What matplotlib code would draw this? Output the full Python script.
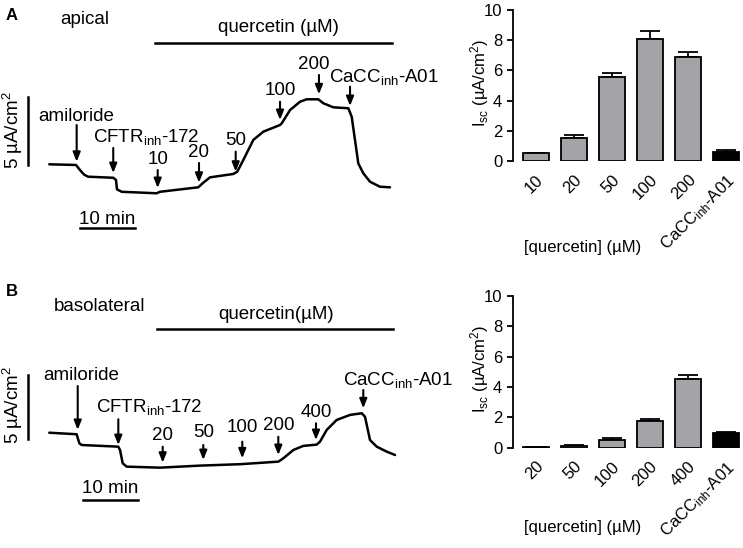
import matplotlib
matplotlib.use("Agg")
import matplotlib.pyplot as plt
import numpy as np

plt.rcParams['font.family'] = ['Liberation Sans', 'DejaVu Sans']
plt.rcParams['mathtext.fontset'] = 'custom'
plt.rcParams['mathtext.rm'] = 'Liberation Sans'
plt.rcParams['mathtext.it'] = 'Liberation Sans:italic'

# ---------------- data: panel A trace (time min, Isc uA/cm2) ----------------
a_t = [-0.13, 4.73, 5.45, 6.18, 6.91, 11.51, 12.0, 12.18, 13.04, 19.4, 20.0, 26.96,
       27.87, 29.09, 33.33, 34.05, 35.15, 36.96, 38.78, 41.82, 42.13, 43.64, 45.45,
       46.67, 48.78, 49.69, 51.51, 54.24, 54.85, 55.45, 56.05, 56.96, 58.18, 60.0, 61.82]
a_i = [1.89, 1.84, 1.47, 1.14, 0.98, 0.90, 0.74, 0.05, -0.13, -0.24, -0.13, 0.20,
       0.54, 0.93, 1.18, 1.35, 2.21, 3.68, 4.29, 4.78, 4.90, 5.88, 6.49,
       6.67, 6.67, 6.38, 6.08, 6.01, 5.39, 3.68, 1.96, 1.23, 0.61, 0.24, 0.20]

a_ev_t = [4.85, 11.5, 19.58, 27.09, 33.76, 41.82, 48.9, 54.55]
a_ev_tail = [4.78, 3.09, 1.47, 1.99, 2.82, 6.49, 8.46, 7.6]
a_ev_tip = [2.08, 1.25, 0.15, 0.54, 1.35, 5.15, 7.04, 6.18]
a_lab = ['amiloride', r'CFTR$_{\mathrm{inh}}$-172', '10', '20', '50', '100', '200',
         r'CaCC$_{\mathrm{inh}}$-A01']
a_lab_t = [4.85, 17.4, 19.58, 27.09, 33.76, 41.82, 48.0, 50.7]
a_lab_i = [5.07, 3.55, 1.91, 2.40, 3.31, 6.99, 8.87, 7.96]
a_lab_ha = ['center', 'center', 'center', 'center', 'center', 'center', 'center', 'left']

# ---------------- data: panel B trace ----------------
b_t = [-0.13, 4.85, 5.15, 5.36, 5.76, 12.42, 12.73, 13.22, 13.95, 20.0, 27.27, 34.55,
       41.51, 42.42, 44.24, 46.05, 48.49, 49.09, 50.31, 52.13, 54.55, 56.67, 57.27,
       58.18, 59.4, 61.22, 62.73]
b_i = [2.91, 2.79, 2.34, 2.07, 1.95, 1.82, 1.56, 0.52, 0.26, 0.18, 0.34, 0.45,
       0.65, 0.91, 1.56, 1.88, 1.98, 2.21, 3.13, 3.91, 4.30, 4.43, 4.16,
       2.34, 1.82, 1.43, 1.17]

b_ev_t = [5.04, 12.42, 20.49, 27.87, 34.96, 41.51, 48.36, 56.96]
b_ev_tail = [6.56, 3.96, 1.82, 1.95, 2.21, 2.60, 3.65, 6.25]
b_ev_tip = [3.13, 1.95, 0.57, 0.78, 0.91, 1.17, 2.34, 4.82]
b_lab = ['amiloride', r'CFTR$_{\mathrm{inh}}$-172', '20', '50', '100', '200', '400',
         r'CaCC$_{\mathrm{inh}}$-A01']
b_lab_t = [5.76, 18.0, 20.49, 27.87, 34.96, 41.51, 48.36, 53.3]
b_lab_i = [7.03, 4.56, 2.34, 2.55, 2.99, 3.13, 4.17, 6.64]
b_lab_ha = ['center', 'center', 'center', 'center', 'center', 'center', 'center', 'left']

# ---------------- data: bar charts ----------------
a_cats = ['10', '20', '50', '100', '200', r'CaCC$_{\mathrm{inh}}$-A01']
a_vals = [0.50, 1.50, 5.55, 8.05, 6.90, 0.62]
a_errs = [0.05, 0.25, 0.28, 0.58, 0.35, 0.10]

b_cats = ['20', '50', '100', '200', '400', r'CaCC$_{\mathrm{inh}}$-A01']
b_vals = [0.02, 0.10, 0.52, 1.74, 4.52, 0.96]
b_errs = [0.02, 0.06, 0.13, 0.15, 0.28, 0.06]

GRAY = '#a3a3a8'

fig = plt.figure(figsize=(7.43, 5.48), dpi=100)
W, H = 743, 548


def pix_axes(x0, y0, x1, y1):
    return fig.add_axes([x0 / W, 1 - y1 / H, (x1 - x0) / W, (y1 - y0) / H])


def trace_panel(box, xlim, ylim, t, i, ev_t, ev_tail, ev_tip, labs, lab_t, lab_i, lab_ha,
                vbar, hbar, hlab_i, vlab_i, qline, qlab, qlab_xy, side, side_xy):
    ax = pix_axes(*box)
    ax.set_xlim(*xlim)
    ax.set_ylim(*ylim)
    ax.axis('off')
    ax.plot(t, i, color='black', lw=1.8, solid_joinstyle='round', solid_capstyle='round')
    for x, y0, y1 in zip(ev_t, ev_tail, ev_tip):
        ax.annotate('', xy=(x, y1), xytext=(x, y0),
                    arrowprops=dict(arrowstyle='-|>,head_length=0.55,head_width=0.22',
                                    color='black', lw=1.5, shrinkA=0, shrinkB=0))
    for s, x, y, ha in zip(labs, lab_t, lab_i, lab_ha):
        ax.text(x, y, s, ha=ha, va='baseline', fontsize=13.5)
    # scale bars
    ax.plot([vbar[0], vbar[0]], [vbar[1], vbar[1] + 5], color='black', lw=1.8)
    ax.text(-6.67, vlab_i, r'5 µA/cm$^{2}$', rotation=90, ha='center', va='center',
            fontsize=13.5)
    ax.plot([hbar[0], hbar[0] + 10], [hbar[1], hbar[1]], color='black', lw=1.8)
    ax.text(hbar[0] + 5, hlab_i, '10 min', ha='center', va='baseline', fontsize=13.5)
    ax.plot([qline[0], qline[1]], [qline[2], qline[2]], color='black', lw=1.8)
    ax.text(qlab_xy[0], qlab_xy[1], qlab, ha='center', va='baseline', fontsize=13.5)
    ax.text(side_xy[0], side_xy[1], side, ha='center', va='baseline', fontsize=13.5)
    return ax


trace_panel((0, 0, 420, 250), (-9.09, 67.27), (-4.41, 13.97), a_t, a_i,
            a_ev_t, a_ev_tail, a_ev_tip, a_lab, a_lab_t, a_lab_i, a_lab_ha,
            (-3.95, 1.84), (5.45, -2.82), -2.5, 4.4, (19.1, 62.1, 10.83),
            'quercetin (µM)', (41.45, 11.64), 'apical', (6.36, 12.18))

trace_panel((0, 280, 420, 530), (-9.09, 67.27), (-4.69, 14.84), b_t, b_i,
            b_ev_t, b_ev_tail, b_ev_tip, b_lab, b_lab_t, b_lab_i, b_lab_ha,
            (-3.95, 2.4), (6.0, -2.34), -1.82, 5.1, (19.4, 62.4, 10.99),
            'quercetin(µM)', (41.05, 11.77), 'basolateral', (9.09, 12.45))

fig.text(6 / W, 1 - 20 / H, 'A', fontsize=12, fontweight='bold', ha='left', va='baseline')
fig.text(6 / W, 1 - 296 / H, 'B', fontsize=12, fontweight='bold', ha='left', va='baseline')


def bar_panel(box, cats, vals, errs, xlab_y):
    ax = pix_axes(*box)
    x = np.arange(len(cats))
    colors = [GRAY] * (len(cats) - 1) + ['black']
    ax.bar(x, vals, width=0.69, color=colors, edgecolor='black', linewidth=1.3, zorder=2)
    ax.errorbar(x, vals, yerr=[np.zeros(len(errs)), errs], fmt='none', ecolor='black',
                elinewidth=1.3, capsize=7.5, capthick=1.3, zorder=1)
    ax.set_xlim(-0.59, 5.45)
    ax.set_ylim(0, 10)
    for s in ['top', 'right', 'bottom']:
        ax.spines[s].set_visible(False)
    ax.spines['left'].set_linewidth(1.3)
    ax.set_yticks([0, 2, 4, 6, 8, 10])
    ax.tick_params(axis='y', length=4, width=1.3, labelsize=12, pad=4)
    ax.set_xticks(x)
    ax.set_xticklabels(cats, rotation=45, ha='right', rotation_mode='anchor', fontsize=12)
    ax.tick_params(axis='x', length=0, pad=8)
    ax.text(-0.145, 0.52, r'I$_{\mathrm{sc}}$ (µA/cm$^{2}$)', rotation=90, transform=ax.transAxes,
            ha='center', va='center', fontsize=12)
    ax.text(0.303, xlab_y, '[quercetin] (µM)', transform=ax.transAxes, ha='center',
            va='center', fontsize=12)
    return ax


bar_panel((513.3, 10, 743, 161), a_cats, a_vals, a_errs, -0.576)
bar_panel((513.3, 296, 743, 447.7), b_cats, b_vals, b_errs, -0.523)

fig.savefig('out.png', dpi=100)
